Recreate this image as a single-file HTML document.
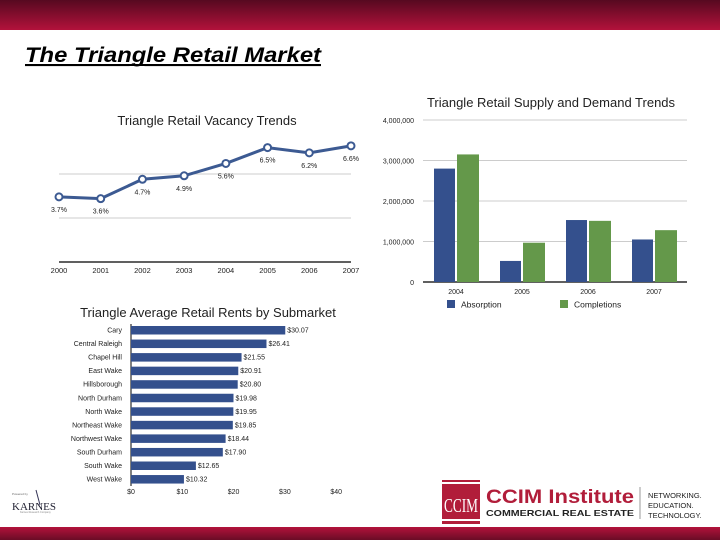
<!DOCTYPE html>
<html><head><meta charset="utf-8"><style>
body{margin:0;width:720px;height:540px;overflow:hidden;background:#fff;font-family:"Liberation Sans",sans-serif;position:relative}
.abs{position:absolute}
</style></head><body>
<div class="abs" style="left:0;top:0;width:720px;height:30px;background:linear-gradient(#560920,#b3123b)"></div>
<div class="abs" style="left:0;top:527px;width:720px;height:13px;background:linear-gradient(#b3123b,#6a0c26)"></div>
<svg class="abs" style="left:0;top:0" width="720" height="540">
<g font-family="Liberation Sans, sans-serif">
<text x="25" y="62" font-size="21" font-weight="bold" font-style="italic" text-decoration="underline" fill="#000" textLength="296" lengthAdjust="spacingAndGlyphs">The Triangle Retail Market</text>
<line x1="25" y1="65" x2="321" y2="65" stroke="#000" stroke-width="2"/>
<text x="207" y="125" font-size="13" text-anchor="middle" fill="#222">Triangle Retail Vacancy Trends</text>
<text x="551" y="107" font-size="13" text-anchor="middle" fill="#222">Triangle Retail Supply and Demand Trends</text>
<text x="208" y="317" font-size="13" text-anchor="middle" fill="#222">Triangle Average Retail Rents by Submarket</text>
<g id="vac"></g><g id="rent"></g><g id="sup"></g>
</g>
<g>
<text x="12" y="495" font-size="3" fill="#666">Powered by</text>
<line x1="36" y1="490" x2="40" y2="505" stroke="#335" stroke-width="1"/>
<text x="12" y="510" font-size="11" font-family="Liberation Serif, serif" fill="#223">KARNES</text>
<text x="20" y="513" font-size="2.5" fill="#888">Karnes Research Company</text>
</g>
<g>
<rect x="442" y="480" width="38" height="44" fill="#b11d3a"/>
<rect x="442" y="482" width="38" height="2" fill="#fff"/>
<rect x="442" y="519" width="38" height="2" fill="#fff"/>
<text x="461" y="512" font-size="20" font-family="Liberation Serif, serif" fill="#fff" text-anchor="middle" textLength="34" lengthAdjust="spacingAndGlyphs">CCIM</text>
<text x="486" y="503" font-size="19" font-weight="bold" fill="#b11d3a" textLength="148" lengthAdjust="spacingAndGlyphs">CCIM Institute</text>
<text x="486" y="516" font-size="8.5" font-weight="bold" fill="#222" textLength="148" lengthAdjust="spacingAndGlyphs">COMMERCIAL REAL ESTATE</text>
<line x1="640" y1="487" x2="640" y2="519" stroke="#999"/>
<text x="648" y="498" font-size="7.5" fill="#222">NETWORKING.</text>
<text x="648" y="508" font-size="7.5" fill="#222">EDUCATION.</text>
<text x="648" y="518" font-size="7.5" fill="#222">TECHNOLOGY.</text>
</g>
</svg>
<script>
const vacYears=["2000","2001","2002","2003","2004","2005","2006","2007"];
const vacValues=[3.7,3.6,4.7,4.9,5.6,6.5,6.2,6.6];
const vacLabels=["3.7%","3.6%","4.7%","4.9%","5.6%","6.5%","6.2%","6.6%"];
const rentNames=["Cary","Central Raleigh","Chapel Hill","East Wake","Hillsborough","North Durham","North Wake","Northeast Wake","Northwest Wake","South Durham","South Wake","West Wake"];
const rentValues=[30.07,26.41,21.55,20.91,20.80,19.98,19.95,19.85,18.44,17.90,12.65,10.32];
const rentTicks=[0,10,20,30,40];
const supYears=["2004","2005","2006","2007"];
const absorption=[2800000,520000,1530000,1050000];
const completions=[3150000,970000,1510000,1280000];
const supTicks=[0,1000000,2000000,3000000,4000000];
const NS="http://www.w3.org/2000/svg";
function mk(p,t,a,txt){const e=document.createElementNS(NS,t);for(const k in a)e.setAttribute(k,a[k]);if(txt!=null)e.textContent=txt;p.appendChild(e);return e;}
const vg=document.getElementById('vac');
const vx=i=>59+i*(292/7), vy=v=>262-17.6*v;
[2.5,5].forEach(t=>{const l=mk(vg,'line',{x1:59,x2:351,y1:vy(t),y2:vy(t),stroke:'#bbb','stroke-width':0.8});

});
mk(vg,'line',{x1:59,x2:351,y1:262,y2:262,stroke:'#000','stroke-width':1.2});
const vl=mk(vg,'polyline',{points:vacValues.map((v,i)=>vx(i)+','+vy(v)).join(' '),fill:'none',stroke:'#3c5a92','stroke-width':3});


vacValues.forEach((v,i)=>{const c=mk(vg,'circle',{cx:vx(i),cy:vy(v),r:3.5,fill:'#fff',stroke:'#3c5a92','stroke-width':2});


const t=mk(vg,'text',{x:vx(i),y:vy(v)+15,'font-size':7,'text-anchor':'middle',fill:'#222'},vacLabels[i]);


const y=mk(vg,'text',{x:vx(i),y:273,'font-size':7.5,'text-anchor':'middle',fill:'#222'},vacYears[i]);

});
const rg=document.getElementById('rent');
const rx=v=>131+v*5.13, ry=i=>330+i*13.55;
mk(rg,'line',{x1:131,x2:131,y1:324,y2:486,stroke:'#000','stroke-width':1});
rentNames.forEach((n,i)=>{const b=mk(rg,'rect',{x:131,y:ry(i)-4,width:rx(rentValues[i])-131,height:8.5,fill:'#34508d'});


const l=mk(rg,'text',{x:122,y:ry(i)+2.5,'font-size':7,'text-anchor':'end',fill:'#222'},n);


const v=mk(rg,'text',{x:rx(rentValues[i])+2,y:ry(i)+2.5,'font-size':7,fill:'#222'},'$'+rentValues[i].toFixed(2));

});
rentTicks.forEach(t=>{const e=mk(rg,'text',{x:rx(t),y:494,'font-size':7,'text-anchor':'middle',fill:'#222'},'$'+t);

});
const sg=document.getElementById('sup');
const sy=v=>282-v*(162/4000000), sx=i=>456+i*66;
supTicks.forEach(t=>{const l=mk(sg,'line',{x1:423,x2:687,y1:sy(t),y2:sy(t),stroke:t?'#bbb':'#000','stroke-width':t?0.8:1.2});


const e=mk(sg,'text',{x:414,y:sy(t)+3,'font-size':7,'text-anchor':'end',fill:'#222'},t.toLocaleString('en-US'));

});
supYears.forEach((y,i)=>{const a=mk(sg,'rect',{x:sx(i)-22,y:sy(absorption[i]),width:21,height:282-sy(absorption[i]),fill:'#34508d'});


const c=mk(sg,'rect',{x:sx(i)+1,y:sy(completions[i]),width:22,height:282-sy(completions[i]),fill:'#64984a'});


const t=mk(sg,'text',{x:sx(i),y:294,'font-size':7,'text-anchor':'middle',fill:'#222'},y);

});
[[447,'#34508d','Absorption'],[560,'#64984a','Completions']].forEach(d=>{const g=mk(sg,'g',{});


mk(g,'rect',{x:d[0],y:300,width:8,height:8,fill:d[1]});mk(g,'text',{x:d[0]+14,y:307.5,'font-size':8.5,fill:'#222'},d[2]);});
</script>
</body></html>
